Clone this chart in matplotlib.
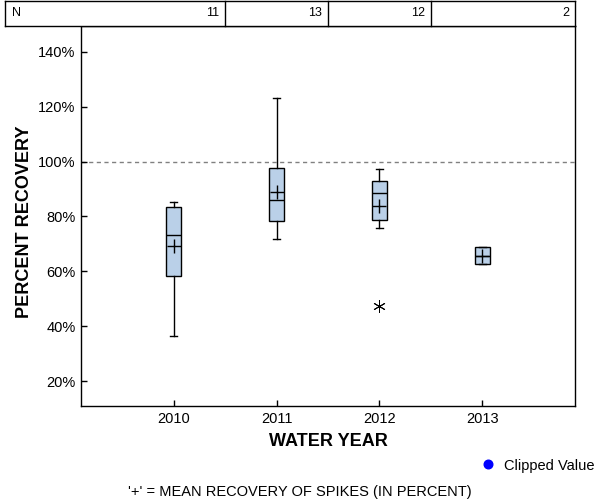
import matplotlib
matplotlib.use("Agg")
from matplotlib import pyplot as plt
from matplotlib import transforms
from matplotlib.lines import Line2D

plt.rcParams['font.family'] = ['Liberation Sans', 'DejaVu Sans']

# valores (percentual de recuperacao)
anos = [2010, 2011, 2012, 2013]
n_amostras = [11, 13, 12, 2]
whis_baixo = [36.5, 71.6, 75.9, 62.5]
q1 = [58.1, 78.5, 78.8, 62.5]
mediana = [73.4, 85.8, 88.6, 65.5]
q3 = [83.6, 97.7, 93.0, 68.7]
whis_alto = [85.4, 123.1, 97.2, 68.7]
media = [69.1, 89.0, 83.8, 65.5]
outliers = [[], [], [47.5], []]

yticks = [20, 40, 60, 80, 100, 120, 140]

stats = []
for i in range(len(anos)):
    stats.append({"label": str(anos[i]), "whislo": whis_baixo[i], "q1": q1[i],
                  "med": mediana[i], "q3": q3[i], "whishi": whis_alto[i],
                  "mean": media[i], "fliers": outliers[i]})

fig = plt.figure(figsize=(6, 5), dpi=100)
ax = fig.add_axes([81/600, 94/500, 494/600, 380/500])

ax.axhline(100, color="#808080", lw=1, ls=(0, (3, 2.5)), zorder=0)

ax.bxp(stats, positions=anos, widths=0.146, showmeans=True, patch_artist=True,
       capwidths=0.07,
       boxprops=dict(facecolor="#BAD0E8", edgecolor="black", linewidth=1),
       medianprops=dict(color="black", linewidth=1),
       whiskerprops=dict(color="black", linewidth=1),
       capprops=dict(color="black", linewidth=1),
       meanprops=dict(marker="+", markersize=10, markeredgecolor="black",
                      markeredgewidth=1),
       flierprops=dict(marker=(6, 2, 0), markersize=9, markeredgecolor="black",
                       markeredgewidth=0.7))

ax.set_xlim(2009.1, 2013.9)
ax.set_ylim(10.9, 149.4)
ax.set_xticks(anos)
ax.set_xticklabels([str(a) for a in anos])
ax.set_yticks(yticks)
ax.set_yticklabels([f"{t}%" for t in yticks])
ax.tick_params(direction="in", length=4, width=1, labelsize=10.5, colors="black", pad=4)
for s in ax.spines.values():
    s.set_linewidth(1)

ax.set_xlabel("WATER YEAR", fontsize=13, fontweight="bold")
ax.set_ylabel("PERCENT RECOVERY", fontsize=13, fontweight="bold")
ax.xaxis.set_label_coords(0.5, -0.093)
ax.yaxis.set_label_coords(-0.115, 0.486)
ax.xaxis.label.set_va("center")
ax.yaxis.label.set_va("center")

# tabela do N no topo
tab = fig.add_axes([5/600, 474/500, 570/600, 25/500])
tab.set_xticks([])
tab.set_yticks([])
for s in tab.spines.values():
    s.set_linewidth(1)
trans = transforms.blended_transform_factory(ax.transData, tab.transAxes)
for i in range(len(anos) - 1):
    meio = (anos[i] + anos[i + 1]) / 2
    tab.plot([meio, meio], [0, 1], color="black", lw=1, transform=trans,
             clip_on=False)
tab.text(0.012, 0.5, "N", ha="left", va="center", fontsize=9, transform=tab.transAxes)
for i in range(len(anos)):
    borda = (anos[i] + 0.5) if i < len(anos) - 1 else 2013.9
    tab.text(borda - 0.06, 0.5, str(n_amostras[i]), ha="right", va="center",
             fontsize=9, transform=trans)

fig.add_artist(Line2D([488/600], [1 - 464/500], marker="o", markersize=6.2,
                      color="blue", linestyle="none", transform=fig.transFigure))
fig.text(504/600, 1 - 466/500, "Clipped Value", fontsize=10.5, ha="left", va="center")
fig.text(300/600, 1 - 492/500, "'+' = MEAN RECOVERY OF SPIKES (IN PERCENT)",
         fontsize=10.5, ha="center", va="center")

fig.savefig("out.png", dpi=100)
